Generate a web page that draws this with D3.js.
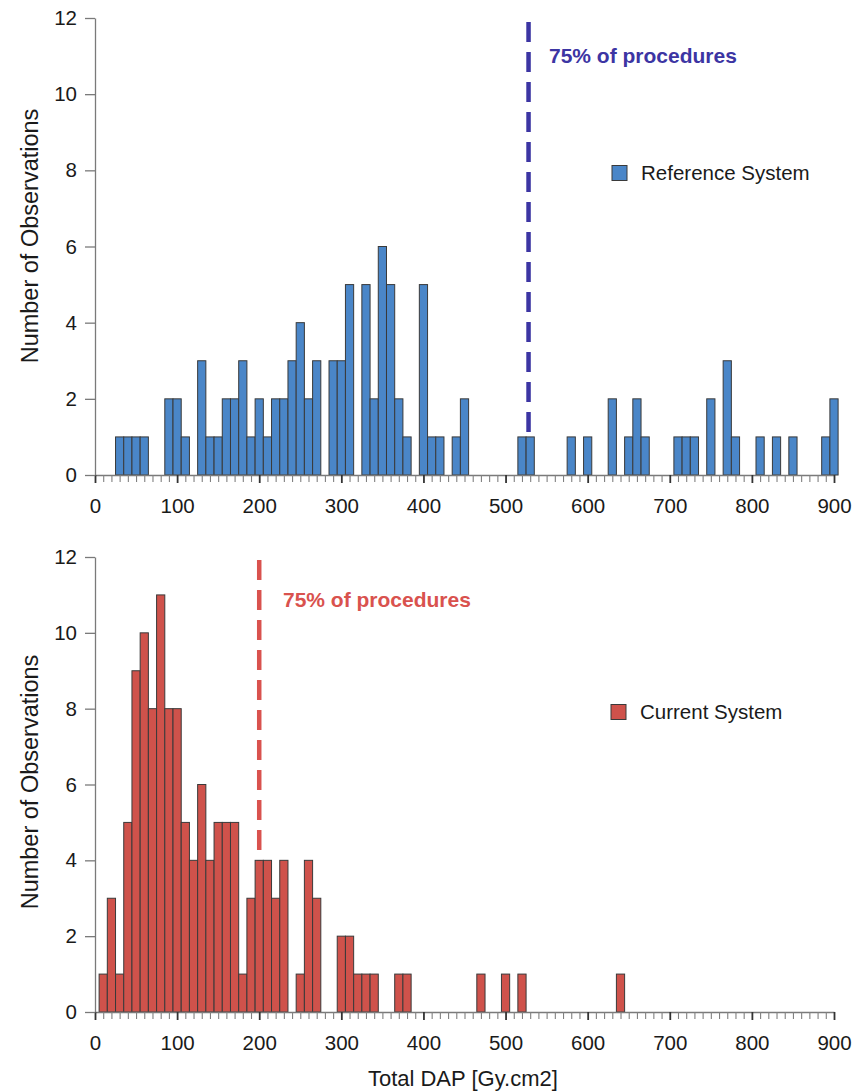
<!DOCTYPE html>
<html>
<head>
<meta charset="utf-8">
<script src="https://cdn.jsdelivr.net/npm/d3@7/dist/d3.min.js"></script>
<style>
  body { margin: 0; background: #fff; }
  svg { display: block; font-family: "Liberation Sans", Arial, Helvetica, sans-serif; }
</style>
</head>
<body>
<div id="chart"></div>
<script>
// bin centres (Gy.cm2), 10-wide bins
const binCenters = d3.range(0, 901, 10);

// Reference System counts per bin (0..900)
const referenceCounts = [
    0, 0, 0, 1, 1, 1, 1, 0, 0, 2,
    2, 1, 0, 3, 1, 1, 2, 2, 3, 1,
    2, 1, 2, 2, 3, 4, 2, 3, 0, 3,
    3, 5, 0, 5, 2, 6, 5, 2, 1, 0,
    5, 1, 1, 0, 1, 2, 0, 0, 0, 0,
    0, 0, 1, 1, 0, 0, 0, 0, 1, 0,
    1, 0, 0, 2, 0, 1, 2, 1, 0, 0,
    0, 1, 1, 1, 0, 2, 0, 3, 1, 0,
    0, 1, 0, 1, 0, 1, 0, 0, 0, 1,
    2
];

// Current System counts per bin (0..900)
const currentCounts = [
    0, 1, 3, 1, 5, 9, 10, 8, 11, 8,
    8, 5, 4, 6, 4, 5, 5, 5, 1, 3,
    4, 4, 3, 4, 0, 1, 4, 3, 0, 0,
    2, 2, 1, 1, 1, 0, 0, 1, 1, 0,
    0, 0, 0, 0, 0, 0, 0, 1, 0, 0,
    1, 0, 1, 0, 0, 0, 0, 0, 0, 0,
    0, 0, 0, 0, 1, 0, 0, 0, 0, 0,
    0, 0, 0, 0, 0, 0, 0, 0, 0, 0,
    0, 0, 0, 0, 0, 0, 0, 0, 0, 0,
    0
];

const yTicks = [0, 2, 4, 6, 8, 10, 12];
const xLabelTicks = [0, 100, 200, 300, 400, 500, 600, 700, 800, 900];
const seriesNames = ['Reference System', 'Current System'];
const percentileValues = [528, 200];
const percentileLabel = '75% of procedures';

const width = 864;
const height = 1092;

const svg = d3.select('#chart')
    .append('svg')
    .attr('width', width)
    .attr('height', height);

function drawHistogram(opts) {
    const x = d3.scaleLinear().domain([0, 900]).range([95, 834]);
    const y = d3.scaleLinear().domain([0, 12]).range([opts.bottom, opts.top]);
    const g = svg.append('g');

    // 75% marker, behind the bars
    g.append('line')
        .attr('x1', x(opts.percentile))
        .attr('x2', x(opts.percentile))
        .attr('y1', opts.dashTop)
        .attr('y2', y(0))
        .attr('stroke', opts.lineColor)
        .attr('stroke-width', 4.5)
        .attr('stroke-dasharray', '20,10');

    g.append('text')
        .attr('x', opts.labelX)
        .attr('y', opts.labelY)
        .attr('fill', opts.lineColor)
        .style('font-size', '21px')
        .style('font-weight', 'bold')
        .text(percentileLabel);

    const bins = binCenters.map((c, i) => ({ c: c, n: opts.counts[i] })).filter((d) => d.n > 0);

    g.selectAll('rect.bar')
        .data(bins)
        .enter()
        .append('rect')
        .attr('class', 'bar')
        .attr('x', (d) => x(d.c - 5))
        .attr('y', (d) => y(d.n))
        .attr('width', (d) => x(d.c + 5) - x(d.c - 5))
        .attr('height', (d) => y(0) - y(d.n))
        .attr('fill', opts.fill)
        .attr('stroke', '#3a3a3a')
        .attr('stroke-width', 1);

    // x axis: minor tick every 10, labels every 100
    const xAxis = g.append('g')
        .attr('transform', `translate(0, ${y(0)})`)
        .call(d3.axisBottom(x)
            .tickValues(binCenters)
            .tickSize(7)
            .tickSizeOuter(0)
            .tickFormat((d) => (xLabelTicks.includes(d) ? d : '')));
    xAxis.select('.domain').attr('stroke', '#7a7a7a').attr('stroke-width', 1.3);
    xAxis.selectAll('.tick line')
        .attr('stroke', (d) => (d % 100 === 0 ? '#333' : '#808080'))
        .attr('stroke-width', (d) => (d % 100 === 0 ? 1.8 : 1.1))
        .attr('y2', (d) => (d % 100 === 0 ? 8 : 7));
    xAxis.selectAll('.tick text')
        .attr('y', 23)
        .attr('dy', '0.71em')
        .attr('fill', '#1a1a1a')
        .style('font-size', '20.5px');

    const yAxis = g.append('g')
        .attr('transform', `translate(95, 0)`)
        .call(d3.axisLeft(y)
            .tickValues(yTicks)
            .tickSize(10)
            .tickSizeOuter(0)
            .tickPadding(8));
    yAxis.select('.domain').attr('stroke', '#7a7a7a').attr('stroke-width', 1.3);
    yAxis.selectAll('.tick line').attr('stroke', '#7a7a7a').attr('stroke-width', 1.3);
    yAxis.selectAll('.tick text')
        .attr('fill', '#1a1a1a')
        .style('font-size', '20.5px');

    g.append('text')
        .attr('transform', `translate(38, ${opts.yLabelCenter}) rotate(-90)`)
        .attr('text-anchor', 'middle')
        .attr('fill', '#1a1a1a')
        .style('font-size', '23.5px')
        .text('Number of Observations');

    // legend
    g.append('rect')
        .attr('x', opts.legendX)
        .attr('y', opts.legendY - 7.5)
        .attr('width', 15)
        .attr('height', 15)
        .attr('fill', opts.fill)
        .attr('stroke', '#3a3a3a')
        .attr('stroke-width', 1);
    g.append('text')
        .attr('x', opts.legendX + 29)
        .attr('y', opts.legendY)
        .attr('dy', '0.35em')
        .attr('fill', '#1a1a1a')
        .style('font-size', '20.5px')
        .text(opts.name);

    return x;
}

drawHistogram({
    counts: referenceCounts,
    name: seriesNames[0],
    top: 18, bottom: 475,
    fill: '#4a86c8',
    lineColor: '#3c35a3',
    percentile: percentileValues[0],
    dashTop: 22,
    labelX: 549, labelY: 63,
    legendX: 612, legendY: 173,
    yLabelCenter: 236
});

const xb = drawHistogram({
    counts: currentCounts,
    name: seriesNames[1],
    top: 557, bottom: 1012,
    fill: '#cf524b',
    lineColor: '#d9524e',
    percentile: percentileValues[1],
    dashTop: 560,
    labelX: 283, labelY: 607,
    legendX: 611, legendY: 712,
    yLabelCenter: 782
});

svg.append('text')
    .attr('x', xb(448))
    .attr('y', 1086)
    .attr('text-anchor', 'middle')
    .attr('fill', '#1a1a1a')
    .style('font-size', '22px')
    .text('Total DAP [Gy.cm2]');
</script>
</body>
</html>
